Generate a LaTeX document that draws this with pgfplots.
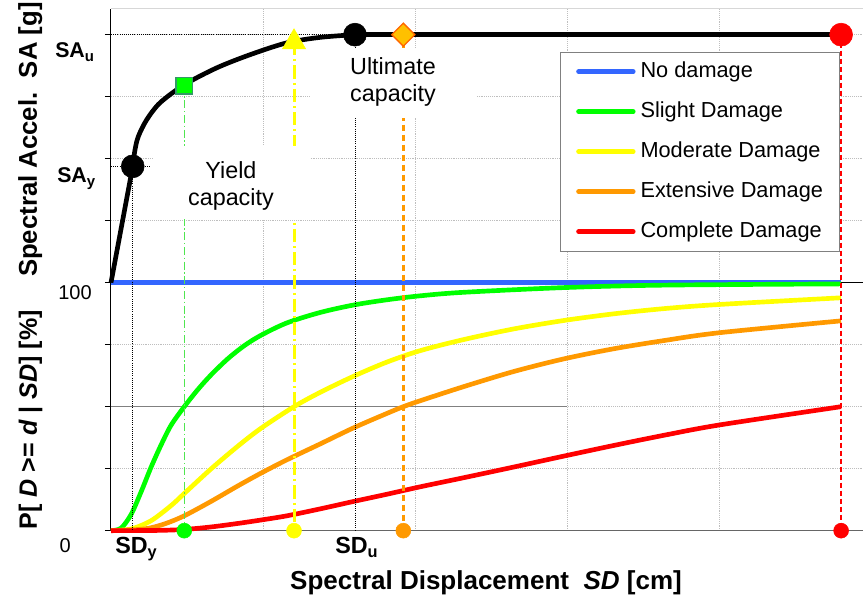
\documentclass[border=0pt]{standalone}
\usepackage{pgfplots}
\pgfplotsset{compat=1.18}
\usepackage{fontspec}
\setmainfont{Liberation Sans}
\definecolor{cBlue}{RGB}{51,102,255}
\definecolor{cGreen}{RGB}{0,255,0}
\definecolor{cYellow}{RGB}{255,255,0}
\definecolor{cOrange}{RGB}{255,153,0}
\definecolor{cRed}{RGB}{255,0,0}
\definecolor{cGold}{RGB}{255,192,0}
\definecolor{cDkOrange}{RGB}{255,102,0}
\definecolor{cSqEdge}{RGB}{51,153,102}
\definecolor{cGrid}{RGB}{190,190,190}
\definecolor{cTop}{RGB}{215,215,215}
\definecolor{cLtGreen}{RGB}{80,230,80}

\begin{document}
\begin{tikzpicture}
\useasboundingbox (-83.25pt,-49.75pt) rectangle (564pt,398pt);
\begin{axis}[
  at={(0pt,0pt)}, anchor=south west,
  scale only axis, width=564pt, height=391.5pt,
  xmin=0, xmax=4.947, ymin=0, ymax=210.48,
  axis line style={draw=none},
  xtick={1,2,3,4}, xticklabels={}, xtick style={draw=none}, xmajorgrids,
  ytick={0,25,...,200}, yticklabels={}, ymajorgrids, ytick pos=left,
  ytick style={draw=black, line width=0.5pt}, tick align=outside, major tick length=4.5pt,
  grid style={cGrid, densely dotted, line width=0.6pt},
  clip=false,
  legend cell align=left,
  legend style={
    at={(0.597,0.9176)}, anchor=north west,
    draw=gray, fill=white,
    font=\fontsize{16.3}{19}\selectfont,
    inner xsep=12pt, inner ysep=7pt,
    row sep=14.5pt, column sep=3.75pt,
    nodes={inner sep=0pt, text height=12pt, text depth=3.5pt},
  },
  legend image code/.code={\draw[#1, line cap=round] (0pt,0pt) -- (41pt,0pt);},
]
% axis frame
\draw[black, line width=0.75pt] (axis cs:0,0) -- (axis cs:0,210.48);
\draw[gray!80!black, line width=0.75pt] (axis cs:0,0) -- (axis cs:4.947,0);
\draw[cTop, line width=1.2pt] (axis cs:0,210.48) -- (axis cs:4.947,210.48);
\draw[black, line width=0.5pt] (axis cs:0,100) -- (axis cs:4.947,100);
\draw[gray, line width=0.6pt] (axis cs:0,50) -- (axis cs:3,50);

% fragility curves
\addplot[cBlue, line width=3.5pt] coordinates {(0,100) (4.803,100)};
\addlegendentry{No damage}
\addplot[cGreen, line width=3.5pt, smooth] coordinates {
(0,0) (0.066,1.0) (0.132,6.5) (0.197,15.5) (0.263,25.5) (0.329,34.5) (0.395,42.5)
(0.482,50.0) (0.570,56.8) (0.658,62.8) (0.768,69.3) (0.877,74.6) (0.987,78.8)
(1.158,83.8) (1.377,88.0) (1.597,91.0) (1.816,93.1) (2.035,94.7) (2.316,96.1)
(2.974,98.0) (3.632,99.0) (4.803,99.5)};
\addlegendentry{Slight Damage}
\addplot[cYellow, line width=3.5pt, smooth] coordinates {
(0,0) (0.132,0.7) (0.263,4.0) (0.395,10.1) (0.482,15.0) (0.658,24.9) (0.833,34.0)
(0.987,41.3) (1.204,50.0) (1.377,55.8) (1.597,62.3) (1.816,68.0) (2.035,72.6)
(2.316,77.0) (2.645,81.3) (2.974,84.7) (3.303,87.4) (3.632,89.5) (4.0,91.2) (4.803,93.9)};
\addlegendentry{Moderate Damage}
\addplot[cOrange, line width=3.5pt, smooth] coordinates {
(0,0) (0.219,0.7) (0.351,2.7) (0.482,6.0) (0.658,11.8) (0.833,18.0) (0.987,23.2)
(1.158,28.6) (1.377,35.0) (1.597,41.5) (1.816,47.3) (1.923,50.0) (2.035,52.4) (2.316,58.0)
(2.645,64.1) (2.974,69.2) (3.303,73.3) (3.632,76.6) (4.0,79.8) (4.803,84.6)};
\addlegendentry{Extensive Damage}
\addplot[cRed, line width=3.5pt, smooth] coordinates {
(0,0) (0.3,0.1) (0.482,0.5) (0.658,1.5) (0.833,2.9) (0.987,4.3) (1.158,6.0)
(1.377,8.8) (1.597,11.8) (1.816,14.7) (2.035,17.7) (2.316,21.3) (2.645,25.6)
(2.974,30.0) (3.303,34.3) (3.632,38.4) (4.0,42.6) (4.803,50.0)};
\addlegendentry{Complete Damage}

% reference lines
\addplot[black, densely dotted, line width=0.6pt, forget plot] coordinates {(0.143,146.9) (0.143,0)};
\addplot[black, densely dotted, line width=0.6pt, forget plot] coordinates {(0,146.9) (0.257,146.9)};
\addplot[black, densely dotted, line width=0.6pt, forget plot] coordinates {(0,200) (1.605,200)};
\addplot[black, densely dotted, line width=0.6pt, forget plot] coordinates {(1.605,200) (1.605,0)};
\addplot[cLtGreen, line width=0.75pt, dash pattern=on 6pt off 2pt on 1pt off 2pt, forget plot] coordinates {(0.482,179.4) (0.482,0)};
\addplot[cYellow, line width=2.25pt, dash pattern=on 10pt off 3pt on 1.5pt off 3pt, forget plot] coordinates {(1.204,197) (1.204,0)};
\addplot[cOrange, line width=2.25pt, dash pattern=on 5pt off 2.5pt, forget plot] coordinates {(1.923,200) (1.923,0)};
\addplot[cRed, line width=1.5pt, dash pattern=on 4pt off 2pt, forget plot] coordinates {(4.803,200) (4.803,0)};

% text boxes
\fill[white] (axis cs:0.276,125.8) rectangle (axis cs:1.309,155.2);
\fill[white] (axis cs:1.309,166.5) rectangle (axis cs:2.408,194.8);
\node[align=center, font=\fontsize{17.5}{20}\selectfont] at (axis cs:0.789,139.1) {Yield\\capacity};
\node[align=center, font=\fontsize{17.5}{20.25}\selectfont] at (axis cs:1.855,181.0) {Ultimate\\capacity};

% capacity curve
\addplot[black, line width=3.5pt, forget plot] coordinates {(0,100) (0.143,146.9)};
\addplot[black, line width=3.5pt, smooth, forget plot] coordinates {
(0.143,146.9) (0.158,153.6) (0.180,159.0) (0.235,165.7) (0.322,172.5) (0.482,179.8)
(0.695,186.6) (0.914,191.9) (1.156,196.7) (1.375,198.9) (1.605,200)};
\addplot[black, line width=3.5pt, forget plot] coordinates {(1.605,200) (4.803,200)};

% markers
\addplot[only marks, mark=*, mark size=8.6pt, black, forget plot] coordinates {(0.143,146.9) (1.605,200)};
\addplot[only marks, mark=square*, mark size=6.2pt, mark options={fill=cGreen, draw=cSqEdge, line width=1pt}, forget plot] coordinates {(0.482,179.4)};
\addplot[only marks, mark=triangle*, mark size=10pt, mark options={fill=cYellow, draw=cYellow}, forget plot] coordinates {(1.204,197)};
\addplot[only marks, mark=square*, mark size=6.1pt, mark options={rotate=45, fill=cGold, draw=cDkOrange, line width=1pt}, forget plot] coordinates {(1.923,200)};
\addplot[only marks, mark=*, mark size=8.6pt, cRed, forget plot] coordinates {(4.803,200)};
\addplot[only marks, mark=*, mark size=5.6pt, cGreen, forget plot] coordinates {(0.482,0)};
\addplot[only marks, mark=*, mark size=5.6pt, cYellow, forget plot] coordinates {(1.204,0)};
\addplot[only marks, mark=*, mark size=5.6pt, cOrange, forget plot] coordinates {(1.923,0)};
\addplot[only marks, mark=*, mark size=5.6pt, cRed, forget plot] coordinates {(4.803,0)};
\end{axis}

\begin{scope}[x=0.75pt, y=0.75pt]
\node[anchor=base west, font=\bfseries\fontsize{16}{19}\selectfont, inner sep=0pt] at (-56,473) {SA\textsubscript{u}};
\node[anchor=base west, font=\bfseries\fontsize{16}{19}\selectfont, inner sep=0pt] at (-54,348) {SA\textsubscript{y}};
\node[anchor=base east, font=\fontsize{15}{18}\selectfont, inner sep=0pt] at (-19,231) {100};
\node[anchor=base east, font=\fontsize{15}{18}\selectfont, inner sep=0pt] at (-40,-22) {0};
\node[anchor=base west, font=\bfseries\fontsize{17.5}{20}\selectfont, inner sep=0pt] at (4,-23) {SD\textsubscript{y}};
\node[anchor=base west, font=\bfseries\fontsize{17.5}{20}\selectfont, inner sep=0pt] at (224,-23) {SD\textsubscript{u}};
\node[anchor=base, font=\bfseries\fontsize{19.5}{22}\selectfont, inner sep=0pt] at (375,-59) {Spectral Displacement\ \ \textit{SD} [cm]};
\node[anchor=base, rotate=90, font=\bfseries\fontsize{19.3}{22}\selectfont, inner sep=0pt] at (-74,391) {Spectral Accel.\ \ SA [g]};
\node[anchor=base, rotate=90, font=\bfseries\fontsize{18.8}{22}\selectfont, inner sep=0pt] at (-74,111) {P[ \textit{D} >= \textit{d} | \textit{SD}] [\%]};
\end{scope}
\end{tikzpicture}
\end{document}
